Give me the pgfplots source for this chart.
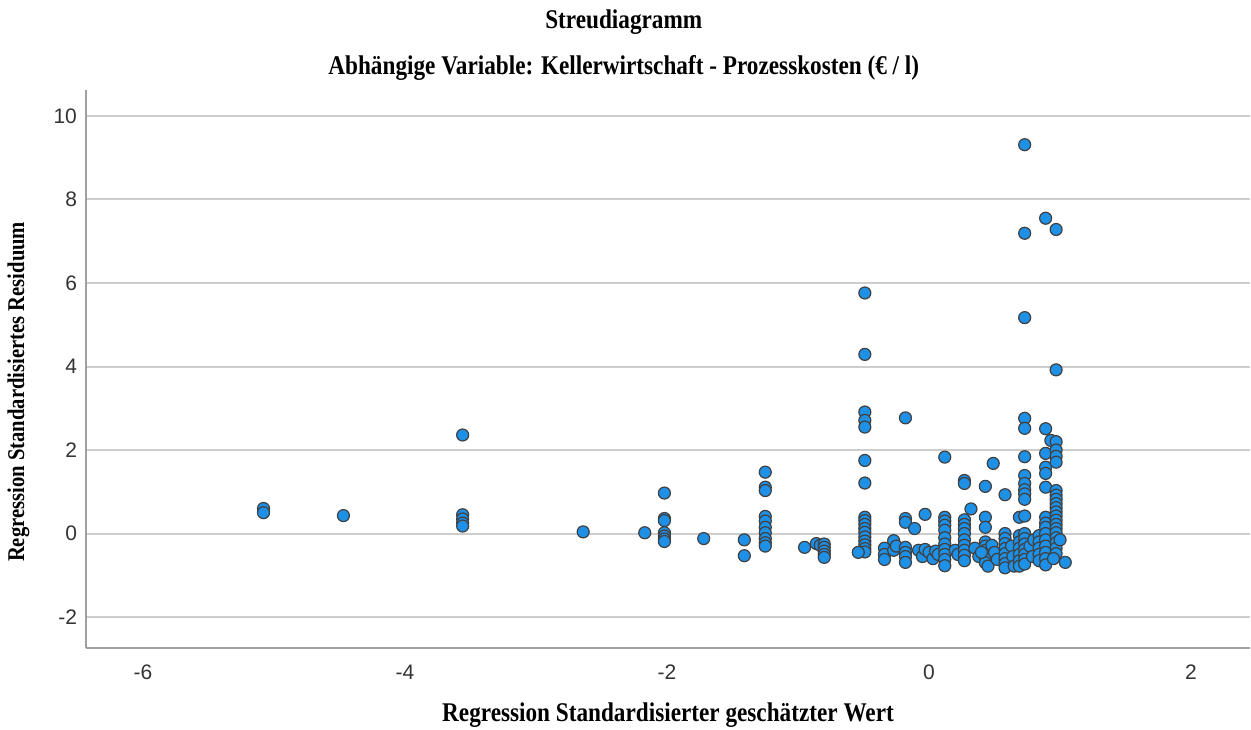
\documentclass[border=0pt]{standalone}
\usepackage{pgfplots}
\pgfplotsset{compat=1.18}
\usepackage{fontspec}
\setmainfont{Liberation Serif}[FakeStretch=0.86]
\setsansfont{Liberation Sans}

\definecolor{spssblue}{RGB}{30,144,229}
\definecolor{gridgray}{RGB}{205,205,205}
\definecolor{axgray}{RGB}{160,160,160}

\begin{document}
\begin{tikzpicture}
\begin{axis}[
    scale only axis,
    width=582pt, height=279pt,
    xmin=-6.435, xmax=2.45,
    ymin=-2.74, ymax=10.62,
    xtick={-6,-4,-2,0,2},
    ytick={-2,0,2,4,6,8,10},
    axis x line*=bottom,
    axis y line*=left,
    axis line style={axgray, line width=1pt, -},
    major tick length=0pt,
    ymajorgrids=true,
    grid style={gridgray, line width=1pt},
    /pgf/number format/assume math mode=true,
    ticklabel style={font=\sffamily\fontsize{10.5}{12}\selectfont, text=black!80},
    xticklabel style={yshift=-5pt},
    yticklabel style={xshift=-1pt},
    xlabel={Regression Standardisierter geschätzter Wert},
    ylabel={Regression Standardisiertes Residuum},
    xlabel style={font=\fontsize{13.5}{15}\selectfont\bfseries,
        at={(axis description cs:0.5,-0.12)}, anchor=center},
    ylabel style={font=\fontsize{12}{14}\selectfont\bfseries,
        at={(axis description cs:-0.058,0.459)}, anchor=center},
    clip=false,
]
% Titel
\node[font=\fontsize{13.5}{15}\selectfont\bfseries] at (rel axis cs:0.462,1.122) {Streudiagramm};
\node[font=\fontsize{13.5}{15}\selectfont\bfseries] at (rel axis cs:0.462,1.039) {Abhängige Variable: Kellerwirtschaft - Prozesskosten (€ / l)};

\addplot[only marks, mark=*, mark size=3pt,
    mark options={fill=spssblue, draw=black!75, line width=0.6pt}]
coordinates {
(-5.08,0.60) (-5.08,0.50)
(-4.47,0.43)
(-3.56,2.36) (-3.56,0.45) (-3.56,0.35) (-3.56,0.25) (-3.56,0.18)
(-2.64,0.04)
(-2.17,0.02)
(-2.02,0.97) (-2.02,0.36) (-2.02,0.31) (-2.02,0.02) (-2.02,-0.06) (-2.02,-0.13) (-2.02,-0.19)
(-1.72,-0.12)
(-1.41,-0.15) (-1.41,-0.53)
(-1.25,1.47) (-1.25,1.11) (-1.25,1.03) (-1.25,0.41) (-1.25,0.30) (-1.25,0.15) (-1.25,0.02) (-1.25,-0.12) (-1.25,-0.22) (-1.25,-0.30)
(-0.95,-0.33)
(-0.86,-0.24) (-0.83,-0.28) (-0.80,-0.25) (-0.80,-0.33) (-0.80,-0.42) (-0.80,-0.50) (-0.80,-0.57)
(-0.49,5.76) (-0.49,4.29) (-0.49,2.91) (-0.49,2.71) (-0.49,2.55) (-0.49,1.75) (-0.49,1.21)
(-0.49,0.39) (-0.49,0.31) (-0.49,0.22) (-0.49,0.12) (-0.49,0.03) (-0.49,-0.08) (-0.49,-0.18)
(-0.49,-0.27) (-0.49,-0.36) (-0.49,-0.44) (-0.54,-0.45)
(-0.34,-0.35) (-0.34,-0.50) (-0.34,-0.62) (-0.27,-0.17) (-0.27,-0.40) (-0.25,-0.30)
(-0.18,2.77) (-0.18,0.36) (-0.18,0.27) (-0.18,-0.33) (-0.18,-0.45) (-0.18,-0.55) (-0.18,-0.69)
(-0.11,0.12) (-0.03,0.46)
(-0.08,-0.40) (-0.05,-0.55) (-0.03,-0.38) (0.00,-0.45) (0.03,-0.60) (0.05,-0.42) (0.07,-0.50)
(0.12,1.83) (0.12,0.39) (0.12,0.30) (0.12,0.20) (0.12,0.08) (0.12,-0.10) (0.12,-0.25)
(0.12,-0.38) (0.12,-0.50) (0.12,-0.62) (0.12,-0.77)
(0.20,-0.40) (0.22,-0.50)
(0.27,1.27) (0.27,1.20) (0.32,0.59) (0.27,0.33) (0.27,0.22) (0.27,0.12) (0.27,0.00)
(0.27,-0.15) (0.27,-0.28) (0.27,-0.40) (0.27,-0.52) (0.27,-0.65)
(0.35,-0.35) (0.38,-0.55)
(0.43,1.13) (0.43,0.39) (0.43,0.15) (0.43,-0.20) (0.43,-0.30) (0.43,-0.40) (0.43,-0.50)
(0.43,-0.60) (0.43,-0.70) (0.45,-0.78) (0.40,-0.45)
(0.49,1.68) (0.48,-0.28) (0.50,-0.45) (0.52,-0.62)
(0.58,0.93) (0.58,0.00) (0.58,-0.12) (0.58,-0.24) (0.58,-0.36) (0.58,-0.48) (0.58,-0.60)
(0.58,-0.72) (0.58,-0.82)
(0.63,-0.30) (0.64,-0.55) (0.65,-0.78)
(0.69,0.39) (0.69,-0.05) (0.69,-0.20) (0.69,-0.35) (0.69,-0.50) (0.69,-0.65) (0.69,-0.78)
(0.73,9.31) (0.73,7.19) (0.73,5.17) (0.73,2.76) (0.73,2.52) (0.73,1.84) (0.73,1.39)
(0.73,1.20) (0.73,1.05) (0.73,0.95) (0.73,0.82) (0.73,0.42) (0.73,0.00) (0.73,-0.12)
(0.73,-0.25) (0.73,-0.38) (0.73,-0.50) (0.73,-0.62) (0.73,-0.73)
(0.77,-0.30) (0.79,-0.55) (0.80,-0.15)
(0.84,-0.05) (0.84,-0.20) (0.84,-0.35) (0.84,-0.50) (0.84,-0.65)
(0.89,7.55) (0.89,2.51) (0.89,1.92) (0.89,1.59) (0.89,1.44) (0.89,1.11) (0.89,0.39)
(0.89,0.25) (0.89,0.15) (0.89,0.00) (0.89,-0.15) (0.89,-0.30) (0.89,-0.45) (0.89,-0.60) (0.89,-0.75)
(0.93,2.23)
(0.97,7.28) (0.97,3.92) (0.97,2.20) (0.97,2.00) (0.97,1.85) (0.97,1.71) (0.97,1.03)
(0.97,0.92) (0.97,0.82) (0.97,0.72) (0.97,0.62) (0.97,0.52) (0.97,0.42) (0.97,0.32)
(0.97,0.22) (0.97,0.12) (0.97,0.02) (0.97,-0.10) (0.97,-0.22) (0.97,-0.35) (0.97,-0.48)
(0.95,-0.60) (1.00,-0.15)
(1.04,-0.69)
};
\end{axis}
\pgfresetboundingbox
\path (current axis.south west) ++(-43pt,-40.5pt) rectangle ++(625.5pt,364.5pt);
\end{tikzpicture}
\end{document}
